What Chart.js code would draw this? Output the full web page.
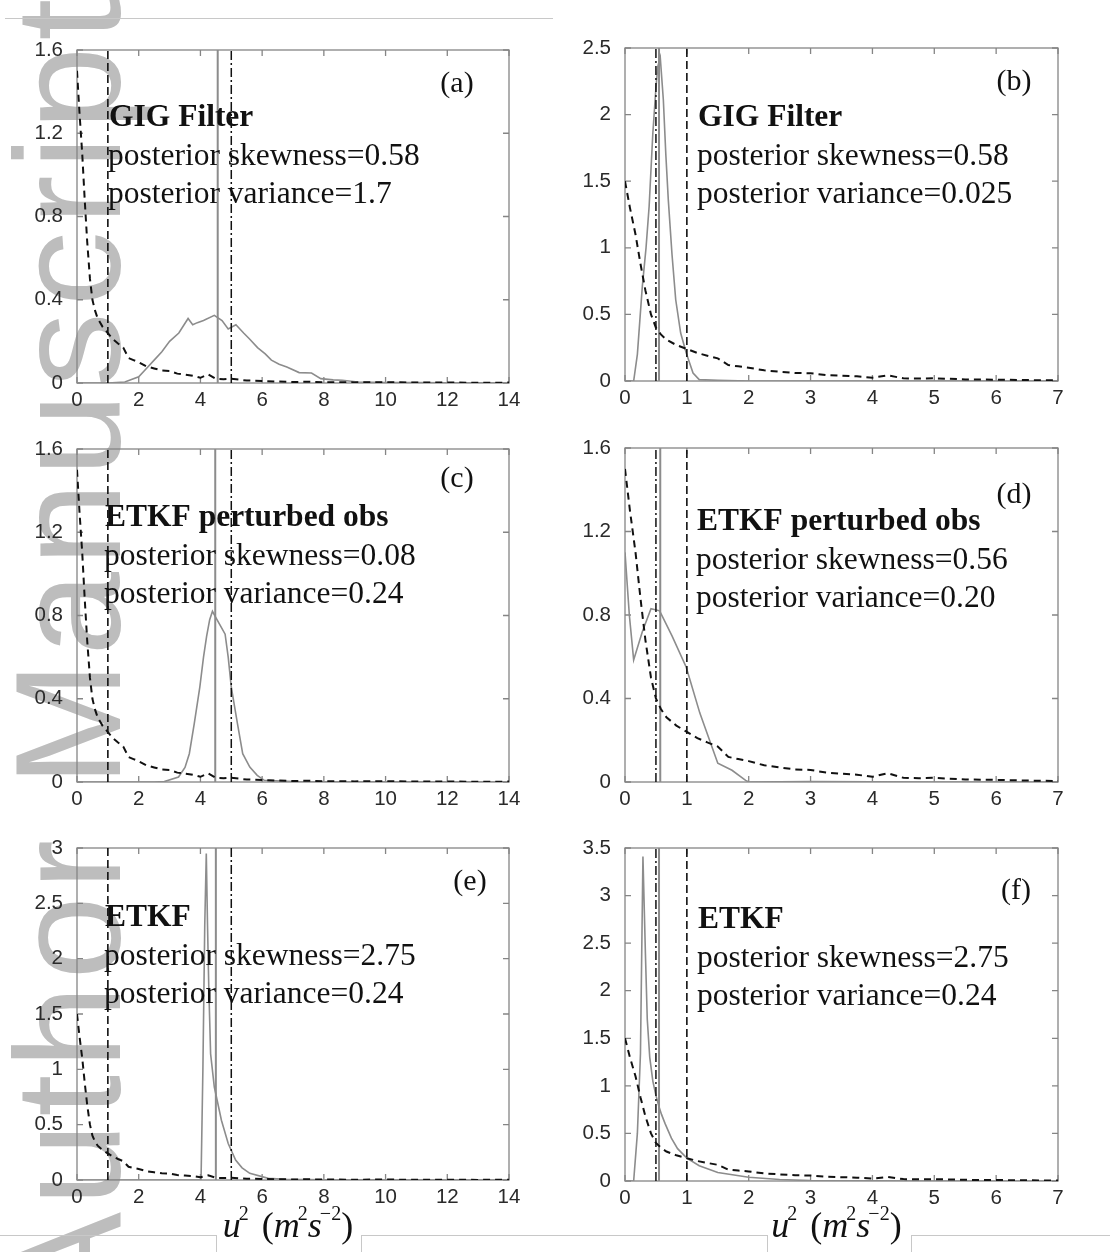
<!DOCTYPE html>
<html>
<head>
<meta charset="utf-8">
<script src="https://cdn.jsdelivr.net/npm/chart.js@4.4.0/dist/chart.umd.min.js"></script>
<style>
  body { margin: 0; background: #fff; width: 1110px; height: 1252px; position: relative; overflow: hidden; }
  canvas { position: absolute; }
  #watermark {
    position: absolute; left: -7px; top: 1312px;
    font: 150px/1 "Liberation Sans", Arial, sans-serif; letter-spacing: 6px;
    color: #bdbdbd; white-space: nowrap;
    transform: rotate(-90deg); transform-origin: 0 0;
  }
  .rule { position: absolute; background: #c8c8c8; }
</style>
</head>
<body>
<div id="watermark">Author Manuscript</div>
<div class="rule" style="left:5px;top:18px;width:548px;height:1px"></div>
<div class="rule" style="left:0;top:1235px;width:216px;height:1px"></div>
<div class="rule" style="left:216px;top:1235px;width:1px;height:17px"></div>
<div class="rule" style="left:361px;top:1235px;width:406px;height:1px"></div>
<div class="rule" style="left:361px;top:1235px;width:1px;height:17px"></div>
<div class="rule" style="left:767px;top:1235px;width:1px;height:17px"></div>
<div class="rule" style="left:911px;top:1235px;width:199px;height:1px"></div>
<div class="rule" style="left:911px;top:1235px;width:1px;height:17px"></div>

<script>
// ---- panel text ----
const panelTags = ["(a)", "(b)", "(c)", "(d)", "(e)", "(f)"];
const filterNames = ["GIG Filter", "GIG Filter", "ETKF perturbed obs", "ETKF perturbed obs", "ETKF", "ETKF"];
const skewness = ["0.58", "0.58", "0.08", "0.56", "2.75", "2.75"];
const variances = ["1.7", "0.025", "0.24", "0.20", "0.24", "0.24"];
// x-axis title u^2 (m^2 s^-2): [text, italic?, superscript?]
const unitParts = [["u", true, false], ["2", false, true], ["(", false, false], ["m", true, false], ["2", false, true], ["s", true, false], ["\u22122", false, true], [")", false, false]];

// ---- axes ----
const xMax = [14, 7, 14, 7, 14, 7];
const xStep = [2, 1, 2, 1, 2, 1];
const yMax = [1.6, 2.5, 1.6, 1.6, 3, 3.5];
const yStep = [0.4, 0.5, 0.4, 0.4, 0.5, 0.5];

// ---- vertical reference lines ----
const priorMean = [1, 1, 1, 1, 1, 1];
const truthValue = [5, 0.5, 5, 0.5, 5, 0.5];
const postMean = [4.56, 0.55, 4.48, 0.57, 4.5, 0.55];

// ---- prior pdf (dashed, same in every panel) ----
const priorX = [0, 0.08, 0.17, 0.25, 0.33, 0.42, 0.5, 0.58, 0.67, 0.83, 1.0, 1.17, 1.33, 1.5, 1.67, 1.83, 2.0, 2.25, 2.5, 2.75, 3.0, 3.25, 3.5, 3.75, 4.0, 4.25, 4.5, 4.75, 5.0, 5.5, 6.0, 6.5, 7.0, 7.5, 8, 9, 10, 11, 12, 13, 14];
const priorY = [1.5, 1.3, 1.1, 0.88, 0.68, 0.5, 0.4, 0.35, 0.31, 0.27, 0.24, 0.21, 0.19, 0.17, 0.12, 0.11, 0.1, 0.08, 0.07, 0.06, 0.058, 0.045, 0.04, 0.035, 0.025, 0.042, 0.02, 0.018, 0.02, 0.012, 0.01, 0.007, 0.005, 0.006, 0.004, 0.003, 0.004, 0.002, 0.003, 0.001, 0.002];

// ---- posterior pdfs (grey) ----
const postAX = [0, 1.0, 1.55, 2.0, 2.25, 2.5, 2.75, 3.0, 3.3, 3.6, 3.75, 3.9, 4.1, 4.45, 4.7, 4.9, 5.15, 5.4, 5.6, 5.85, 6.1, 6.3, 6.55, 6.8, 7.2, 7.6, 7.9, 8.3, 8.6, 9.1, 10, 11, 12, 13, 14];
const postAY = [0, 0, 0.005, 0.03, 0.07, 0.11, 0.15, 0.2, 0.24, 0.31, 0.28, 0.29, 0.3, 0.325, 0.3, 0.26, 0.28, 0.24, 0.21, 0.17, 0.14, 0.11, 0.09, 0.077, 0.05, 0.048, 0.021, 0.015, 0.013, 0.005, 0.002, 0.002, 0.001, 0.001, 0];
const postBX = [0, 0.14, 0.2, 0.28, 0.34, 0.39, 0.45, 0.5, 0.53, 0.57, 0.62, 0.66, 0.7, 0.76, 0.82, 0.9, 0.99, 1.1, 1.2, 1.5, 2, 3, 4, 5, 6, 7];
const postBY = [0, 0, 0.2, 0.71, 1.0, 1.31, 1.86, 2.2, 2.36, 2.43, 2.11, 1.7, 1.36, 0.95, 0.61, 0.36, 0.21, 0.06, 0.01, 0.005, 0, 0, 0, 0, 0, 0];
const postCX = [0, 2.5, 2.83, 3.29, 3.5, 3.64, 3.8, 3.98, 4.1, 4.2, 4.3, 4.39, 4.5, 4.65, 4.8, 4.9, 5.0, 5.2, 5.37, 5.6, 5.84, 6.07, 7, 14];
const postCY = [0, 0, 0.002, 0.024, 0.07, 0.136, 0.28, 0.456, 0.6, 0.7, 0.78, 0.82, 0.79, 0.75, 0.71, 0.6, 0.456, 0.28, 0.136, 0.072, 0.032, 0.008, 0.002, 0];
const postDX = [0, 0.07, 0.14, 0.28, 0.42, 0.56, 0.76, 0.99, 1.21, 1.5, 1.73, 1.95, 2.0, 3, 4, 5, 6, 7];
const postDY = [1.1, 0.8, 0.585, 0.72, 0.83, 0.82, 0.7, 0.55, 0.33, 0.09, 0.056, 0.008, 0, 0.002, 0.001, 0, 0, 0];
const postEX = [0, 4.02, 4.08, 4.14, 4.19, 4.23, 4.27, 4.33, 4.45, 4.68, 4.9, 5.14, 5.35, 5.6, 6.2, 6.76, 8, 14];
const postEY = [0, 0, 1.0, 2.3, 2.95, 2.3, 1.75, 1.14, 0.84, 0.54, 0.33, 0.18, 0.11, 0.06, 0.015, 0.006, 0.002, 0];
const postFX = [0, 0.14, 0.2, 0.25, 0.29, 0.33, 0.36, 0.4, 0.45, 0.5, 0.55, 0.59, 0.65, 0.75, 0.85, 1.0, 1.2, 1.5, 2.0, 2.5, 3, 4, 5, 6, 7];
const postFY = [0, 0, 0.5, 1.34, 3.41, 2.39, 1.7, 1.3, 1.05, 0.9, 0.78, 0.7, 0.6, 0.45, 0.34, 0.24, 0.16, 0.09, 0.04, 0.015, 0.005, 0.002, 0, 0, 0];

const postXs = [postAX, postBX, postCX, postDX, postEX, postFX];
const postYs = [postAY, postBY, postCY, postDY, postEY, postFY];

/* ================================
   LAYOUT (page pixels of each plot box)
================================ */
const AREAS = [
  { l: 77, t: 50, r: 509, b: 383 },
  { l: 625, t: 48, r: 1058, b: 381 },
  { l: 77, t: 449, r: 509, b: 782 },
  { l: 625, t: 448, r: 1058, b: 782 },
  { l: 77, t: 848, r: 509, b: 1180 },
  { l: 625, t: 848, r: 1058, b: 1181 }
];
const TEXT_POS = [
  { dx: 32, dy: 68, tagDx: 52, tagDy: 34 },
  { dx: 73, dy: 70, tagDx: 44, tagDy: 34 },
  { dx: 28, dy: 69, tagDx: 52, tagDy: 30 },
  { dx: 72, dy: 74, tagDx: 44, tagDy: 47 },
  { dx: 28, dy: 70, tagDx: 39, tagDy: 34 },
  { dx: 73, dy: 72, tagDx: 42, tagDy: 43 }
];
const PAD_LEFT = 70, PAD_TOP = 25, PAD_RIGHT = 30;
const SERIF = '"Liberation Serif", "Times New Roman", serif';
const TICK_FONT = { family: '"Liberation Sans", Arial, sans-serif', size: 20.5 };
const GREY = "#8c8c8c";

function pts(xs, ys) {
  return xs.map((x, i) => ({ x: x, y: ys[i] }));
}
function vline(v, top) {
  return [{ x: v, y: 0 }, { x: v, y: top }];
}

// MATLAB-style box with inward ticks on all four sides
const boxTicks = {
  id: "boxTicks",
  beforeDatasetsDraw(chart) {
    const { ctx, chartArea: a, scales: { x, y } } = chart;
    ctx.save();
    ctx.strokeStyle = "#858585";
    ctx.lineWidth = 1.3;
    ctx.strokeRect(a.left, a.top, a.right - a.left, a.bottom - a.top);
    ctx.beginPath();
    x.ticks.forEach(t => {
      const px = x.getPixelForValue(t.value);
      ctx.moveTo(px, a.bottom); ctx.lineTo(px, a.bottom - 6);
      ctx.moveTo(px, a.top); ctx.lineTo(px, a.top + 6);
    });
    y.ticks.forEach(t => {
      const py = y.getPixelForValue(t.value);
      ctx.moveTo(a.left, py); ctx.lineTo(a.left + 6, py);
      ctx.moveTo(a.right, py); ctx.lineTo(a.right - 6, py);
    });
    ctx.stroke();
    ctx.restore();
  }
};

// panel tag and filter statistics
const panelText = {
  id: "panelText",
  afterDatasetsDraw(chart, args, o) {
    const { ctx, chartArea: a } = chart;
    ctx.save();
    ctx.fillStyle = "#111";
    ctx.textBaseline = "middle";
    ctx.textAlign = "center";
    ctx.font = "30px " + SERIF;
    ctx.fillText(o.tag, a.right - o.tagDx, a.top + o.tagDy);
    ctx.textAlign = "left";
    ctx.font = "bold 31.5px " + SERIF;
    ctx.fillText(o.name, a.left + o.dx, a.top + o.dy);
    ctx.font = "31.5px " + SERIF;
    ctx.fillText("posterior skewness=" + o.skew, a.left + o.dx - 1, a.top + o.dy + 38.5);
    ctx.fillText("posterior variance=" + o.vari, a.left + o.dx - 1, a.top + o.dy + 77);
    ctx.restore();
  }
};

// x-axis unit label with real superscripts (bottom row only)
const unitTitle = {
  id: "unitTitle",
  afterDraw(chart, args, o) {
    if (!o.show) return;
    const { ctx, chartArea: a } = chart;
    const fontOf = p => p[2] ? "20px " + SERIF : (p[1] ? "italic " : "") + "36px " + SERIF;
    // small kern: superscript tucks in after an italic letter, wide gap before "("
    const advance = (p, i) => {
      let w = ctx.measureText(p[0]).width;
      if (p[1]) w -= 2;
      if (i === 1) w += 13;
      return w;
    };
    ctx.save();
    let w = 0;
    unitParts.forEach((p, i) => { ctx.font = fontOf(p); w += advance(p, i); });
    let x = (a.left + a.right) / 2 - 5 - w / 2;
    const base = chart.height - 15;
    ctx.fillStyle = "#111";
    ctx.textBaseline = "alphabetic";
    ctx.textAlign = "left";
    unitParts.forEach((p, i) => {
      ctx.font = fontOf(p);
      ctx.fillText(p[0], x, p[2] ? base - 17 : base);
      x += advance(p, i);
    });
    ctx.restore();
  }
};

AREAS.forEach((area, i) => {
  const bottomRow = i >= 4;
  const xh = bottomRow ? 1252 - area.b : 35;
  const canvas = document.createElement("canvas");
  canvas.width = (area.r - area.l) + PAD_LEFT + PAD_RIGHT;
  canvas.height = (area.b - area.t) + PAD_TOP + xh;
  canvas.style.left = (area.l - PAD_LEFT) + "px";
  canvas.style.top = (area.t - PAD_TOP) + "px";
  document.body.appendChild(canvas);

  new Chart(canvas, {
    type: "line",
    data: {
      datasets: [
        { data: pts(priorX, priorY), borderColor: "#111", borderWidth: 2, borderDash: [7, 5] },
        { data: vline(priorMean[i], yMax[i]), borderColor: "#111", borderWidth: 1.6, borderDash: [8, 4] },
        { data: vline(truthValue[i], yMax[i]), borderColor: "#111", borderWidth: 1.5, borderDash: [9, 3, 2, 3] },
        { data: vline(postMean[i], yMax[i]), borderColor: GREY, borderWidth: 2 },
        { data: pts(postXs[i], postYs[i]), borderColor: GREY, borderWidth: 1.6 }
      ]
    },
    options: {
      responsive: false,
      animation: false,
      events: [],
      layout: { padding: { top: PAD_TOP, right: PAD_RIGHT, left: 0, bottom: 0 } },
      elements: { point: { radius: 0 }, line: { tension: 0, fill: false } },
      plugins: {
        legend: { display: false },
        tooltip: { enabled: false },
        unitTitle: { show: bottomRow },
        panelText: {
          tag: panelTags[i], name: filterNames[i], skew: skewness[i], vari: variances[i],
          dx: TEXT_POS[i].dx, dy: TEXT_POS[i].dy, tagDx: TEXT_POS[i].tagDx, tagDy: TEXT_POS[i].tagDy
        }
      },
      scales: {
        x: {
          type: "linear", min: 0, max: xMax[i],
          ticks: { stepSize: xStep[i], font: TICK_FONT, color: "#2a2a2a", padding: -3, maxRotation: 0 },
          grid: { display: false },
          border: { display: false },
          afterFit: s => { s.height = xh; }
        },
        y: {
          type: "linear", min: 0, max: yMax[i],
          ticks: {
            stepSize: yStep[i], font: TICK_FONT, color: "#2a2a2a", padding: 6,
            callback: v => String(parseFloat(v.toFixed(2)))
          },
          grid: { display: false },
          border: { display: false },
          afterFit: s => { s.width = PAD_LEFT; }
        }
      }
    },
    plugins: [boxTicks, panelText, unitTitle]
  });
});
</script>
</body>
</html>
